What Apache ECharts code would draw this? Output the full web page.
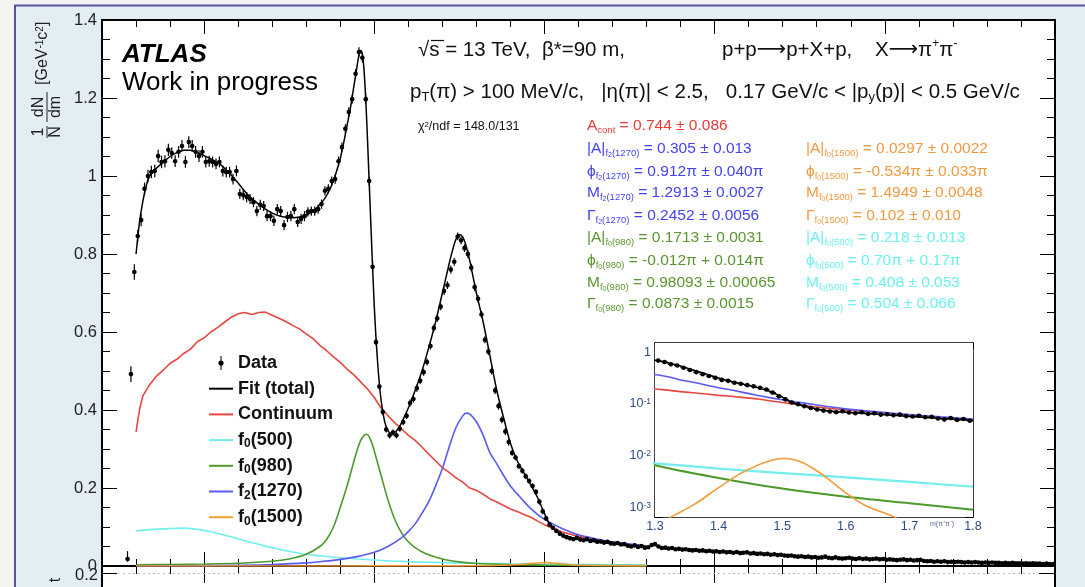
<!DOCTYPE html>
<html><head><meta charset="utf-8">
<script src="https://cdn.jsdelivr.net/npm/echarts@6/dist/echarts.min.js"></script>
<style>html,body{margin:0;padding:0;background:#f3f4ef;}#c{width:1085px;height:587px;}</style>
</head><body><div id="c"></div>
<script>
// ---------------- DATA ----------------
// m(pi+pi-) histogram: bin centres start at 0.275 GeV, 10 MeV wide
const binStart = 0.275;
const binWidth = 0.01;
const dataY = [
0.018,0.492,0.754,0.846,0.887,0.967,1.000,1.010,1.013,1.051,
1.036,1.038,1.067,1.059,1.038,1.062,1.077,1.036,1.087,1.077,
1.062,1.051,1.062,1.036,1.038,1.036,1.031,1.036,1.013,1.010,
1.010,0.992,1.013,0.954,0.951,0.946,0.941,0.933,0.910,0.926,
0.923,0.897,0.897,0.885,0.915,0.910,0.874,0.895,0.897,0.915,
0.882,0.890,0.897,0.908,0.910,0.910,0.915,0.928,0.962,0.967,
0.987,0.992,1.038,1.074,1.121,1.164,1.197,1.262,1.318,1.303,
1.197,0.987,0.767,0.574,0.460,0.395,0.350,0.335,0.342,0.335,
0.352,0.369,0.385,0.418,0.428,0.456,0.475,0.497,0.523,0.564,
0.610,0.635,0.665,0.705,0.720,0.760,0.780,0.845,0.835,0.815,
0.800,0.765,0.715,0.685,0.645,0.580,0.550,0.500,0.450,0.410,
0.375,0.345,0.318,0.290,0.278,0.256,0.244,0.230,0.218,0.205,
0.190,0.165,0.140,0.122,0.106,0.098,0.090,0.083,0.078,0.074,
0.071,0.069,0.072,0.068,0.066,0.069,0.064,0.066,0.062,0.063,
0.060,0.062,0.058,0.057,0.059,0.055,0.056,0.052,0.050,0.053,
0.049,0.051,0.047,0.048,0.054,0.056,0.050,0.046,0.047,0.045,
0.046,0.043,0.044,0.042,0.043,0.041,0.040,0.041,0.039,0.040,
0.038,0.039,0.037,0.038,0.036,0.037,0.035,0.036,0.034,0.036,
0.033,0.034,0.035,0.032,0.033,0.031,0.032,0.030,0.031,0.029,
0.030,0.028,0.029,0.027,0.026,0.027,0.025,0.024,0.025,0.023,
0.024,0.022,0.023,0.021,0.022,0.024,0.021,0.020,0.022,0.020,
0.019,0.020,0.021,0.019,0.018,0.020,0.018,0.019,0.017,0.018,
0.019,0.017,0.018,0.016,0.017,0.016,0.015,0.016,0.017,0.015,
0.016,0.014,0.015,0.016,0.013,0.012,0.013,0.011,0.012,0.011,
0.012,0.010,0.011,0.010,0.011,0.010,0.009,0.010,0.009,0.010,
0.009,0.008,0.009,0.008,0.009,0.008,0.008,0.007,0.008,0.007,
0.008,0.007,0.007,0.006,0.007,0.006,0.007,0.006,0.006,0.005,
0.006,0.005,0.005
];
// statistical error per 0.1 GeV slice, from 0.2 GeV
const statErr = [0.020,0.016,0.015,0.014,0.013,0.013,0.012,0.012,0.008,0.009,
                 0.010,0.009,0.007,0.005,0.005,0.004,0.004,0.004,0.003,0.003,
                 0.003,0.003,0.003,0.003,0.002,0.002,0.002,0.002];

const fitMass = [0.30,0.31,0.32,0.33,0.34,0.36,0.38,0.40,0.42,0.44,0.46,0.48,0.50,0.52,0.54,0.56,0.58,0.60,0.62,0.64,0.66,0.68,0.70,0.72,0.74,0.76,0.78,0.80,0.82,0.84,0.86,0.88,0.90,0.91,0.92,0.93,0.94,0.95,0.955,0.96,0.965,0.97,0.975,0.98,0.985,0.99,1.00,1.01,1.02,1.03,1.04,1.05,1.06,1.07,1.08,1.10,1.12,1.14,1.16,1.18,1.20,1.22,1.23,1.24,1.25,1.26,1.27,1.28,1.30,1.32,1.34,1.36,1.38,1.40,1.42,1.44,1.46,1.48,1.49,1.50,1.51,1.52,1.54,1.56,1.58,1.60,1.65,1.70,1.75,1.80];
const fitTotal = [0.80,0.88,0.935,0.975,1.000,1.020,1.035,1.050,1.060,1.066,1.066,1.060,1.052,1.044,1.034,1.020,1.002,0.982,0.960,0.942,0.928,0.915,0.905,0.898,0.894,0.893,0.895,0.900,0.910,0.926,0.950,0.988,1.045,1.085,1.130,1.175,1.230,1.285,1.310,1.322,1.312,1.270,1.195,1.095,0.985,0.875,0.665,0.520,0.425,0.372,0.347,0.340,0.342,0.352,0.367,0.405,0.450,0.500,0.560,0.625,0.700,0.775,0.810,0.838,0.850,0.843,0.820,0.785,0.700,0.625,0.538,0.450,0.380,0.315,0.270,0.238,0.208,0.175,0.155,0.135,0.115,0.103,0.087,0.077,0.072,0.069,0.063,0.057,0.052,0.048];

const contMass = [0.30,0.31,0.32,0.34,0.36,0.38,0.40,0.42,0.44,0.46,0.48,0.50,0.52,0.54,0.56,0.58,0.60,0.62,0.64,0.66,0.68,0.70,0.72,0.74,0.76,0.78,0.80,0.82,0.84,0.86,0.88,0.90,0.92,0.94,0.96,0.98,1.00,1.02,1.04,1.06,1.08,1.10,1.12,1.14,1.16,1.18,1.20,1.22,1.24,1.26,1.28,1.30,1.32,1.34,1.36,1.38,1.40,1.42,1.44,1.46,1.48,1.50,1.52,1.55,1.60,1.65,1.70,1.75,1.80];
const contY = [0.344,0.400,0.436,0.465,0.487,0.502,0.520,0.530,0.545,0.556,0.575,0.585,0.600,0.612,0.625,0.638,0.647,0.650,0.645,0.650,0.651,0.643,0.635,0.627,0.617,0.608,0.595,0.583,0.566,0.552,0.536,0.522,0.505,0.490,0.472,0.454,0.432,0.405,0.386,0.367,0.352,0.335,0.322,0.305,0.287,0.270,0.252,0.240,0.226,0.215,0.200,0.194,0.184,0.172,0.164,0.155,0.146,0.140,0.132,0.125,0.115,0.106,0.098,0.088,0.076,0.068,0.061,0.054,0.047];

const f0500Mass = [0.30,0.35,0.40,0.44,0.48,0.52,0.56,0.60,0.64,0.68,0.72,0.76,0.80,0.85,0.90,0.95,1.00,1.05,1.10,1.15,1.20,1.25,1.30,1.40,1.50,1.60,1.70,1.80];
const f0500Y = [0.090,0.094,0.096,0.097,0.094,0.088,0.079,0.070,0.060,0.051,0.043,0.036,0.030,0.025,0.021,0.018,0.0155,0.0130,0.0112,0.0098,0.0086,0.0077,0.0071,0.0056,0.0046,0.0038,0.0031,0.0025];

const f0980Mass = [0.30,0.40,0.50,0.60,0.70,0.75,0.80,0.84,0.86,0.88,0.90,0.92,0.94,0.95,0.96,0.97,0.978,0.99,1.00,1.02,1.04,1.06,1.08,1.10,1.12,1.15,1.20,1.25,1.30,1.40,1.50,1.60,1.70,1.80];
const f0980Y = [0.003,0.004,0.005,0.007,0.012,0.018,0.030,0.050,0.068,0.100,0.150,0.205,0.268,0.298,0.322,0.335,0.338,0.322,0.295,0.232,0.170,0.120,0.085,0.062,0.047,0.032,0.018,0.0105,0.0065,0.0037,0.0023,0.0016,0.0012,0.0009];

const f21270Mass = [0.30,0.50,0.60,0.70,0.80,0.85,0.90,0.95,1.00,1.04,1.08,1.10,1.12,1.14,1.16,1.18,1.20,1.22,1.24,1.26,1.27,1.28,1.30,1.32,1.34,1.36,1.38,1.40,1.42,1.44,1.46,1.48,1.50,1.52,1.55,1.60,1.65,1.70,1.75,1.80];
const f21270Y = [0.0005,0.001,0.002,0.004,0.008,0.012,0.017,0.024,0.035,0.050,0.072,0.088,0.108,0.135,0.165,0.205,0.250,0.305,0.355,0.385,0.392,0.390,0.370,0.335,0.290,0.262,0.232,0.205,0.185,0.165,0.147,0.132,0.120,0.110,0.097,0.080,0.070,0.062,0.056,0.051];

const f01500Mass = [0.30,0.80,1.00,1.20,1.30,1.33,1.36,1.40,1.43,1.45,1.47,1.49,1.50,1.51,1.53,1.55,1.57,1.60,1.63,1.67,1.70,1.80];
const f01500Y = [0.0001,0.0001,0.0002,0.0003,0.00045,0.0007,0.0011,0.0024,0.0042,0.0056,0.0072,0.0085,0.0088,0.0087,0.0075,0.0055,0.0037,0.0019,0.0011,0.0007,0.0005,0.0003];

const mainYTicks = [0, 1.4, 0.2];            // min, max, step
const mainXRange = [0.2, 3.0];
const mainXMajor = [0.5, 1.0, 1.5, 2.0, 2.5, 3.0];
const insetXRange = [1.3, 1.8];
const insetYRange = [0.00065, 1.5];
const insetYMinor = [0.002,0.003,0.004,0.005,0.006,0.007,0.008,0.009,0.02,0.03,0.04,0.05,0.06,0.07,0.08,0.09,0.2,0.3,0.4,0.5,0.6,0.7,0.8,0.9];

// ---------------- BUILD ----------------
const FF = "'Liberation Sans', Arial, Helvetica, sans-serif";
const FA = "'DejaVu Sans', sans-serif";
const C = {red:'#e8463f', cyan:'#72eeee', green:'#4c9a2c', blue:'#5a5af0', orange:'#f39b35'};
const TXT = {red:'#ea3a3a', blue:'#4343f2', green:'#5b9530', orange:'#f09a40', cyan:'#6cf0f0'};

const dataPts = dataY.map((y, i) => {
  const x = +(binStart + i * binWidth).toFixed(4);
  const e = statErr[Math.min(statErr.length - 1, Math.floor((x - 0.2) / 0.1))];
  return [x, y, e];
});
const insetPts = dataPts.filter(p => p[0] >= insetXRange[0] && p[0] <= insetXRange[1]);
const zip = (xs, ys) => xs.map((x, i) => [x, ys[i]]);

function renderPoint(params, api) {
  const x = api.value(0), y = api.value(1), e = api.value(2);
  const p = api.coord([x, y]);
  const lo = Math.max(y - e, y * 0.6);
  const t = api.coord([x, y + e]), b = api.coord([x, lo]);
  const l = api.coord([x - binWidth / 2, y]), r = api.coord([x + binWidth / 2, y]);
  return {type: 'group', children: [
    {type: 'line', shape: {x1: p[0], y1: t[1], x2: p[0], y2: b[1]}, style: {stroke: '#000', lineWidth: 1.2}},
    {type: 'line', shape: {x1: l[0], y1: p[1], x2: r[0], y2: p[1]}, style: {stroke: '#000', lineWidth: 1.2}},
    {type: 'circle', shape: {cx: p[0], cy: p[1], r: 2.3}, style: {fill: '#000'}}
  ]};
}

function lineSeries(name, data, color, xi, yi, extra) {
  return Object.assign({
    type: 'line', name, data, xAxisIndex: xi, yAxisIndex: yi, symbol: 'none', showSymbol: false,
    smooth: 0.3, clip: true, silent: true, z: 3,
    lineStyle: {color, width: 1.6}, itemStyle: {color}
  }, extra || {});
}

const axBase = {
  type: 'value', splitLine: {show: false}, axisLabel: {show: false},
  axisLine: {show: true, onZero: false, lineStyle: {color: '#000', width: 2}},
  axisTick: {show: true, inside: true, length: 6, lineStyle: {color: '#000', width: 1}}
};
function ax(o) { return echarts.util.merge(echarts.util.clone(axBase), o, true); }

const xAxes = [
  ax({gridIndex: 0, position: 'bottom', min: mainXRange[0], max: mainXRange[1], interval: 0.1, axisTick: {length: 7}}),
  ax({gridIndex: 0, position: 'bottom', min: mainXRange[0], max: mainXRange[1], interval: 0.1, axisLine: {show: false}, axisTick: {length: 14, customValues: mainXMajor}}),
  ax({gridIndex: 0, position: 'top', min: mainXRange[0], max: mainXRange[1], interval: 0.1, axisTick: {length: 7}}),
  ax({gridIndex: 0, position: 'top', min: mainXRange[0], max: mainXRange[1], interval: 0.1, axisLine: {show: false}, axisTick: {length: 14, customValues: mainXMajor}}),
  // inset
  ax({gridIndex: 1, position: 'bottom', min: insetXRange[0], max: insetXRange[1], interval: 0.1,
      axisLine: {lineStyle: {width: 1.5}}, axisTick: {length: 6},
      minorTick: {show: true, splitNumber: 5, length: 3, lineStyle: {color: '#000'}},
      axisLabel: {show: true, fontFamily: FF, fontSize: 12.5, color: '#2c4a86', margin: 3, formatter: v => v.toFixed(1)}}),
  ax({gridIndex: 1, position: 'top', min: insetXRange[0], max: insetXRange[1], interval: 0.1,
      axisLine: {lineStyle: {width: 1.5}}, axisTick: {length: 6},
      minorTick: {show: true, splitNumber: 5, length: 3, lineStyle: {color: '#000'}}}),
  // lower pad
  ax({gridIndex: 2, position: 'top', min: mainXRange[0], max: mainXRange[1], interval: 0.1, axisLine: {show: false}, axisTick: {length: 7}}),
  ax({gridIndex: 2, position: 'top', min: mainXRange[0], max: mainXRange[1], interval: 0.1, axisLine: {show: false}, axisTick: {length: 16, customValues: mainXMajor}})
];

function logLabel(v) {
  const l = Math.log10(v), r = Math.round(l);
  if (Math.abs(l - r) > 1e-6) return '';
  if (r === 0) return '1';
  return '10{sup|' + r + '}';
}
const yAxes = [
  ax({gridIndex: 0, position: 'left', min: mainYTicks[0], max: mainYTicks[1], interval: mainYTicks[2],
      axisTick: {length: 15}, minorTick: {show: true, splitNumber: 4, length: 8, lineStyle: {color: '#000'}},
      axisLabel: {show: true, fontFamily: FF, fontSize: 16.5, color: '#222', margin: 5}}),
  ax({gridIndex: 0, position: 'right', min: mainYTicks[0], max: mainYTicks[1], interval: mainYTicks[2],
      axisTick: {length: 15}, minorTick: {show: true, splitNumber: 4, length: 8, lineStyle: {color: '#000'}}}),
  // inset log axis
  ax({type: 'log', logBase: 10, gridIndex: 1, position: 'left', min: insetYRange[0], max: insetYRange[1],
      axisLine: {lineStyle: {width: 1.5}}, axisTick: {length: 8},
      axisLabel: {show: true, fontFamily: FF, fontSize: 12.5, color: '#2c4a86', margin: 4, formatter: logLabel,
        rich: {sup: {fontSize: 8.5, fontFamily: FF, color: '#2c4a86', verticalAlign: 'top', lineHeight: 8}}}}),
  ax({type: 'log', logBase: 10, gridIndex: 1, position: 'right', min: insetYRange[0], max: insetYRange[1],
      axisLine: {lineStyle: {width: 1.5}}, axisTick: {length: 8}}),
  // inset minor ticks (decoration on log10 scale)
  ax({gridIndex: 1, position: 'left', min: Math.log10(insetYRange[0]), max: Math.log10(insetYRange[1]),
      axisLine: {show: false}, axisTick: {length: 4, customValues: insetYMinor.map(Math.log10)}}),
  ax({gridIndex: 1, position: 'right', min: Math.log10(insetYRange[0]), max: Math.log10(insetYRange[1]),
      axisLine: {show: false}, axisTick: {length: 4, customValues: insetYMinor.map(Math.log10)}}),
  // lower pad
  ax({gridIndex: 2, position: 'left', min: 0, max: 1, axisTick: {show: false}}),
  ax({gridIndex: 2, position: 'right', min: 0, max: 1, axisTick: {show: false}})
];

const series = [
  lineSeries('Continuum', zip(contMass, contY), C.red, 0, 0, {smooth: false}),
  lineSeries('f0(500)', zip(f0500Mass, f0500Y), C.cyan, 0, 0),
  lineSeries('f0(980)', zip(f0980Mass, f0980Y), C.green, 0, 0),
  lineSeries('f2(1270)', zip(f21270Mass, f21270Y), C.blue, 0, 0),
  lineSeries('f0(1500)', zip(f01500Mass, f01500Y), C.orange, 0, 0),
  lineSeries('Fit (total)', zip(fitMass, fitTotal), '#000', 0, 0, {z: 4, lineStyle: {color: '#000', width: 1.5}}),
  {type: 'custom', name: 'Data', xAxisIndex: 0, yAxisIndex: 0, data: dataPts, renderItem: renderPoint, clip: true, silent: true, z: 5, itemStyle: {color: '#000'}},
  // inset (log)
  lineSeries('Continuum', zip(contMass, contY), C.red, 4, 2, {smooth: false, z: 10}),
  lineSeries('f0(500)', zip(f0500Mass, f0500Y), C.cyan, 4, 2, {z: 10, lineStyle: {color: C.cyan, width: 2.2}}),
  lineSeries('f0(980)', zip(f0980Mass, f0980Y), C.green, 4, 2, {z: 10, lineStyle: {color: C.green, width: 2}}),
  lineSeries('f2(1270)', zip(f21270Mass, f21270Y), C.blue, 4, 2, {z: 10}),
  lineSeries('f0(1500)', zip(f01500Mass, f01500Y), C.orange, 4, 2, {z: 10}),
  lineSeries('Fit (total)', zip(fitMass, fitTotal), '#000', 4, 2, {z: 11, lineStyle: {color: '#000', width: 1.5}}),
  {type: 'custom', name: 'Data', xAxisIndex: 4, yAxisIndex: 2, data: insetPts, renderItem: renderPoint, clip: true, silent: true, z: 12, itemStyle: {color: '#000'}}
];

const legendText = {
  'Data': 'Data', 'Fit (total)': 'Fit (total)', 'Continuum': 'Continuum',
  'f0(500)': 'f{s|0}(500)', 'f0(980)': 'f{s|0}(980)', 'f2(1270)': 'f{s|2}(1270)', 'f0(1500)': 'f{s|0}(1500)'
};
const LINE_ICON = 'path://M0,0 L24,0 L24,2 L0,2 Z';

// text helpers
const SUB = {fontSize: 9.5, fontFamily: FF, verticalAlign: 'bottom', lineHeight: 9};
const SS = {fontSize: 7, fontFamily: FF, verticalAlign: 'bottom', lineHeight: 5};
function txt(x, y, text, size, fill, extra) {
  return {type: 'text', x, y, z: 100, silent: true, style: Object.assign({
    text, fill, fontFamily: FF, fontSize: size, verticalAlign: 'middle', align: 'left',
    rich: {
      sub: Object.assign({}, SUB, {fill}), ss: Object.assign({}, SS, {fill}),
      sup: {fontSize: size * 0.62, fontFamily: FF, fill, verticalAlign: 'top', lineHeight: size * 0.55},
      b: {fontSize: size, fontFamily: FF, fill, lineHeight: size + 3}
    }
  }, extra || {})};
}
function param(x, y, head, f, num, mass, rest, color) {
  const s = '{b|' + head + '}{sub|f}{ss|' + num + '}{sub|(' + mass + ')}{b|' + rest + '}';
  return txt(x, y, s, 15.5, color);
}
const HS = 20.5; // header font size
const headRich = {
  sub: {fontSize: 13, fontFamily: FF, fill: '#111', verticalAlign: 'bottom', lineHeight: 10},
  sup: {fontSize: 12, fontFamily: FF, fill: '#111', verticalAlign: 'top', lineHeight: 10},
  ar: {fontSize: HS, fontFamily: FA, fill: '#111', lineHeight: 24},
  t: {fontSize: HS, fontFamily: FF, fill: '#111', lineHeight: 24}
};

const PX = 587, PX2 = 806;
const graphic = [
  {type: 'rect', z: -100, silent: true, shape: {x: 14, y: 6, width: 1075, height: 585}, style: {fill: '#e2edf4'}},
  {type: 'line', z: -99, silent: true, shape: {x1: 15, y1: 5, x2: 15, y2: 590}, style: {stroke: '#5c4f9f', lineWidth: 2}},
  {type: 'line', z: -99, silent: true, shape: {x1: 14, y1: 5.5, x2: 1090, y2: 5.5}, style: {stroke: '#5c4f9f', lineWidth: 2}},
  // cover lower part of the "0" label (clipped by lower pad)
  {type: 'rect', z: 50, silent: true, shape: {x: 55, y: 569, width: 45, height: 20}, style: {fill: '#e2edf4'}},
  txt(98, 575, '0.2', 16.5, '#222', {align: 'right'}),
  {type: 'line', z: 60, silent: true, shape: {x1: 103, y1: 573.5, x2: 117, y2: 573.5}, style: {stroke: '#000', lineWidth: 1}},
  {type: 'line', z: 60, silent: true, shape: {x1: 1039, y1: 573.5, x2: 1054, y2: 573.5}, style: {stroke: '#000', lineWidth: 1}},
  {type: 'line', z: 20, silent: true, shape: {x1: 118, y1: 573.5, x2: 1038, y2: 573.5}, style: {stroke: '#bbb', lineWidth: 1, lineDash: [2, 3]}},
  {type: 'text', z: 100, silent: true, x: 56, y: 580, rotation: Math.PI / 2, style: {text: 't', fontFamily: FF, fontSize: 16, fill: '#222', align: 'center', verticalAlign: 'middle'}},
  // y-axis title (rotated)
  {type: 'group', x: 47, y: 138, rotation: Math.PI / 2, z: 100, silent: true, children: [
    {type: 'text', x: 6, y: -8, style: {text: '1', fontFamily: FF, fontSize: 16, fill: '#222', align: 'center', verticalAlign: 'middle'}},
    {type: 'line', shape: {x1: 0, y1: 0, x2: 12, y2: 0}, style: {stroke: '#222', lineWidth: 1}},
    {type: 'text', x: 6, y: 9, style: {text: 'N', fontFamily: FF, fontSize: 16, fill: '#222', align: 'center', verticalAlign: 'middle'}},
    {type: 'text', x: 31, y: -8, style: {text: 'dN', fontFamily: FF, fontSize: 16, fill: '#222', align: 'center', verticalAlign: 'middle'}},
    {type: 'line', shape: {x1: 16, y1: 0, x2: 46, y2: 0}, style: {stroke: '#222', lineWidth: 1}},
    {type: 'text', x: 31, y: 9, style: {text: 'dm', fontFamily: FF, fontSize: 16, fill: '#222', align: 'center', verticalAlign: 'middle'}},
    {type: 'text', x: 53, y: -4, style: {text: '[GeV{sup|-1}c{sup|2}]', fontFamily: FF, fontSize: 16, fill: '#222', align: 'left', verticalAlign: 'middle',
      rich: {sup: {fontSize: 10, fontFamily: FF, fill: '#222', verticalAlign: 'top', lineHeight: 9}}}}
  ]},
  // ATLAS label
  txt(122, 55, 'ATLAS', 26, '#000', {fontWeight: 'bold', fontStyle: 'italic'}),
  txt(122, 83, 'Work in progress', 26, '#000'),
  // header
  txt(418, 50, '{t|√s = 13 TeV,  β*=90 m,}', HS, '#111', {rich: headRich}),
  {type: 'line', z: 100, silent: true, shape: {x1: 431, y1: 40.5, x2: 444, y2: 40.5}, style: {stroke: '#111', lineWidth: 1.2}},
  txt(722, 50, '{t|p+p}{ar|⟶}{t|p+X+p,    X}{ar|⟶}{t|π}{sup|+}{t|π}{sup|-}', HS, '#111', {rich: headRich}),
  txt(410, 92, '{t|p}{sub|T}{t|(π) > 100 MeV/c,   |η(π)| < 2.5,   0.17 GeV/c < |p}{sub|y}{t|(p)| < 0.5 GeV/c}', HS, '#111', {rich: headRich}),
  txt(418, 127, 'χ{sup|2}/ndf = 148.0/131', 12.5, '#111'),
  // fit parameters
  txt(PX, 126, '{b|A}{sub|cont}{b| = 0.744 ± 0.086}', 15.5, TXT.red),
  param(PX, 149, '|A|', 'f', '2', '1270', ' = 0.305 ± 0.013', TXT.blue),
  param(PX, 172, 'ϕ', 'f', '2', '1270', ' = 0.912π ± 0.040π', TXT.blue),
  param(PX, 193, 'M', 'f', '2', '1270', ' = 1.2913 ± 0.0027', TXT.blue),
  param(PX, 216, 'Γ', 'f', '2', '1270', ' = 0.2452 ± 0.0056', TXT.blue),
  param(PX, 238, '|A|', 'f', '0', '980', ' = 0.1713 ± 0.0031', TXT.green),
  param(PX, 261, 'ϕ', 'f', '0', '980', ' = -0.012π + 0.014π', TXT.green),
  param(PX, 283, 'M', 'f', '0', '980', ' = 0.98093 ± 0.00065', TXT.green),
  param(PX, 304, 'Γ', 'f', '0', '980', ' = 0.0873 ± 0.0015', TXT.green),
  param(PX2, 149, '|A|', 'f', '0', '1500', ' = 0.0297 ± 0.0022', TXT.orange),
  param(PX2, 172, 'ϕ', 'f', '0', '1500', ' = -0.534π ± 0.033π', TXT.orange),
  param(PX2, 193, 'M', 'f', '0', '1500', ' = 1.4949 ± 0.0048', TXT.orange),
  param(PX2, 216, 'Γ', 'f', '0', '1500', ' = 0.102 ± 0.010', TXT.orange),
  param(PX2, 238, '|A|', 'f', '0', '500', ' = 0.218 ± 0.013', TXT.cyan),
  param(PX2, 261, 'ϕ', 'f', '0', '500', ' = 0.70π + 0.17π', TXT.cyan),
  param(PX2, 283, 'M', 'f', '0', '500', ' = 0.408 ± 0.053', TXT.cyan),
  param(PX2, 304, 'Γ', 'f', '0', '500', ' = 0.504 ± 0.066', TXT.cyan),
  // inset axis title
  txt(930, 524, 'm(π⁺π⁻)', 7, '#5a6a90')
];

const option = {
  backgroundColor: '#f3f4ef',
  animation: false,
  grid: [
    {left: 102, top: 20, width: 953, height: 546, show: true, backgroundColor: '#fff', borderWidth: 0, containLabel: false, outerBoundsMode: 'none'},
    {left: 655, top: 343, width: 318, height: 174, show: true, backgroundColor: '#fff', borderWidth: 0, containLabel: false, outerBoundsMode: 'none', z: 5},
    {left: 102, top: 567, width: 953, height: 60, show: true, backgroundColor: '#fff', borderWidth: 0, containLabel: false, outerBoundsMode: 'none'}
  ],
  xAxis: xAxes,
  yAxis: yAxes,
  legend: {
    show: true, orient: 'vertical', left: 209, top: 353, itemWidth: 24, itemHeight: 14, itemGap: 5.7,
    selectedMode: false, padding: 0, symbolKeepAspect: true,
    textStyle: {fontFamily: FF, fontSize: 18, fontWeight: 'bold', color: '#111', lineHeight: 20,
      rich: {s: {fontSize: 12, fontWeight: 'bold', fontFamily: FF, color: '#111', verticalAlign: 'bottom', lineHeight: 11}}},
    formatter: n => legendText[n],
    data: [
      {name: 'Data', icon: 'path://M2.4,0 L3.6,0 L3.6,16 L2.4,16 Z M0,8 A3,3 0 1 1 6,8 A3,3 0 1 1 0,8 Z', itemStyle: {color: '#000'}},
      {name: 'Fit (total)', icon: LINE_ICON, itemStyle: {color: '#000'}},
      {name: 'Continuum', icon: LINE_ICON, itemStyle: {color: C.red}},
      {name: 'f0(500)', icon: LINE_ICON, itemStyle: {color: C.cyan}},
      {name: 'f0(980)', icon: LINE_ICON, itemStyle: {color: C.green}},
      {name: 'f2(1270)', icon: LINE_ICON, itemStyle: {color: C.blue}},
      {name: 'f0(1500)', icon: LINE_ICON, itemStyle: {color: C.orange}}
    ]
  },
  graphic: {elements: graphic},
  series
};
const chart = echarts.init(document.getElementById('c'), null, {renderer: 'canvas'});
chart.setOption(option);
</script></body></html>
